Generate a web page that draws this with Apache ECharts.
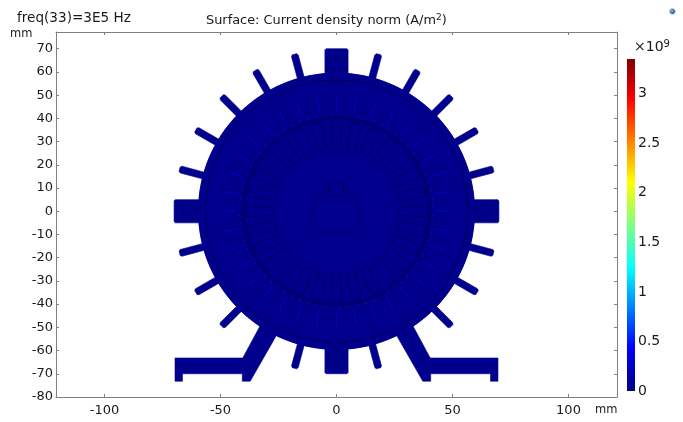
<!DOCTYPE html>
<html><head><meta charset="utf-8">
<style>html,body{margin:0;padding:0;background:#fff}#c{width:683px;height:422px}</style>
<script src="https://cdn.jsdelivr.net/npm/echarts@6/dist/echarts.min.js"></script>
</head><body><div id="c"></div>
<script>
// ---- values (mm, degrees, 1e9 A/m^2) ----
const xTickValues = [-100,-50,0,50,100];
const yTickValues = [-80,-70,-60,-50,-40,-30,-20,-10,0,10,20,30,40,50,60,70];
const colorTickValues = [0,0.5,1,1.5,2,2.5,3];
const colorMax = 3.35;
const bossAngles = [0,90,180,270];
const finAngles = [15,30,45,60,75,105,120,135,150,165,195,210,225,255,285,315,330,345];
const rotorSlotAngles = Array.from({length:28},(_,i)=>i*360/28);
const statorToothAngles = Array.from({length:36},(_,i)=>i*10);
const footSides = [-1,1];
const frameCircleRadii = [59.5];
const lineCircleRadii = [56.5,40.6,39.8,10];
const holeAngles = [0,90,180,270];
const airGapDotAngles = Array.from({length:72},(_,i)=>i*5+2.5);

// ---- appearance ----
const BASE='#00008c', EDGE='#000054', SOFT='#00006c', STRIPE='#0000b8', ARC='#0000a4';
const AXIS='#808080', TEXT='#1a1a1a', FONT='"DejaVu Sans"';
const rad=d=>d*Math.PI/180;
const polar=(a,r,t)=>[r*Math.cos(rad(a))-t*Math.sin(rad(a)), r*Math.sin(rad(a))+t*Math.cos(rad(a))];
const circle=(r,cx=0,cy=0)=>Array.from({length:180},(_,i)=>[cx+r*Math.cos(rad(i*2)),cy+r*Math.sin(rad(i*2))]);

function layer(data,shape,style,closed=true){
  return {type:'custom',xAxisIndex:0,yAxisIndex:0,coordinateSystem:'cartesian2d',silent:true,clip:true,
    data:data.map(v=>[v]),animation:false,
    renderItem:(p,api)=>({type:closed?'polygon':'polyline',
      shape:{points:shape(api.value(0)).map(q=>api.coord(q))},
      style:Object.assign({lineJoin:'round'},style)})};
}
const solid={fill:BASE,stroke:BASE,lineWidth:0.6};
const outline=(c,w)=>({fill:'none',stroke:c,lineWidth:w});

const fin=a=>[[57,-1.5],[69.3,-1.5],[70,-1.0],[70,1.0],[69.3,1.5],[57,1.5]].map(q=>polar(a,q[0],q[1]));
const boss=a=>[[57,-5],[69.5,-5],[70,-4.5],[70,4.5],[69.5,5],[57,5]].map(q=>polar(a,q[0],q[1]));
const foot=s=>[[69.6,-63.2],[40.4,-63.2],[32.2,-48],[25.5,-52.8],[37.2,-73.2],[40.6,-73.2],[40.6,-70],[66.4,-70],[66.4,-73.2],[69.6,-73.2]].map(q=>[s*q[0],q[1]]);
const rotorSlot=a=>[[27,-1.2],[26.9,0],[27,1.2],[27.6,1.75],[38,2.3],[38.8,1.9],[38.9,0],[38.8,-1.9],[38,-2.3],[27.6,-1.75]].map(q=>polar(a,q[0],q[1]));
const tooth=a=>[[43,-0.25],[49,-0.4],[49,0.4],[43,0.25]].map(q=>polar(a,q[0],q[1]));
const statorSlot=a=>{
  const m=a+5, pts=[];
  pts.push(polar(m,43.2,-2.6),polar(m,43.2,2.6),polar(m,44,3.2));
  for(let d=3.6;d>=-3.6;d-=1.2) pts.push(polar(m+d,49.8,0));
  pts.push(polar(m,44,-3.2));
  return pts;
};
const slotArc=a=>{const m=a+5,pts=[];for(let d=-3;d<=3;d+=1)pts.push(polar(m+d,49.9,0));return pts;};
const hole=a=>circle(3.1,...polar(a,63.1,0));
const dot=a=>circle(0.16,...polar(a,41.7,0));
const KEY=[[-3,6.3],[3.1,6.3],[3.1,12.5],[-3,12.5]];
const NOTCH=[[-2.1,56.4],[-1.5,54.9],[1.5,54.9],[2.1,56.4]];

const xMin=-120.9,xMax=120.9,yMin=-80.0,yMax=77.2;
const xCommon={type:'value',min:xMin,max:xMax,gridIndex:0,splitLine:{show:false},
  axisLine:{show:true,onZero:false,lineStyle:{color:AXIS,width:1}},
  axisTick:{show:true,inside:true,length:3,customValues:xTickValues,lineStyle:{color:AXIS}}};
const yCommon={type:'value',min:yMin,max:yMax,gridIndex:0,splitLine:{show:false},
  axisLine:{show:true,onZero:false,lineStyle:{color:AXIS,width:1}},
  axisTick:{show:true,inside:true,length:3,customValues:yTickValues,lineStyle:{color:AXIS}}};
const labelStyle={color:TEXT,fontFamily:FONT,fontSize:13};

const chart=echarts.init(document.getElementById('c'),null,{renderer:'canvas'});
chart.setOption({
  animation:false,backgroundColor:'#fff',
  grid:[{left:56,top:32,width:561,height:365},{left:627,top:59,width:8,height:332}],
  xAxis:[
    Object.assign({},xCommon,{position:'bottom',axisLabel:Object.assign({},labelStyle,{customValues:xTickValues,margin:7})}),
    Object.assign({},xCommon,{position:'top',axisLabel:{show:false}}),
    {type:'category',gridIndex:1,data:['J'],show:false}
  ],
  yAxis:[
    Object.assign({},yCommon,{position:'left',axisLabel:Object.assign({},labelStyle,{customValues:yTickValues,margin:3})}),
    Object.assign({},yCommon,{position:'right',axisLabel:{show:false}}),
    {type:'value',gridIndex:1,min:0,max:colorMax,position:'right',splitLine:{show:false},axisLine:{show:false},axisTick:{show:false},
     axisLabel:Object.assign({},labelStyle,{customValues:colorTickValues,margin:3,fontSize:14})}
  ],
  series:[
    layer(frameCircleRadii,r=>circle(r),solid),
    layer(bossAngles,boss,solid),
    layer(finAngles,fin,solid),
    layer(footSides,foot,solid),
    layer(frameCircleRadii,r=>circle(r),solid),
    layer(holeAngles,hole,outline(EDGE,0.9)),
    layer(lineCircleRadii,r=>circle(r),outline(EDGE,0.9)),
    layer(statorToothAngles,statorSlot,outline(SOFT,0.5)),
    layer(statorToothAngles,slotArc,outline(ARC,0.7),false),
    layer(statorToothAngles,tooth,{fill:STRIPE,stroke:'none'}),
    layer(airGapDotAngles,dot,{fill:'#1a4fb0',stroke:'none'}),
    layer(rotorSlotAngles,rotorSlot,outline(EDGE,0.9)),
    layer([0],()=>KEY,{fill:BASE,stroke:EDGE,lineWidth:0.9}),
    layer([0],()=>NOTCH,outline(EDGE,0.9),false),
    {type:'bar',xAxisIndex:2,yAxisIndex:2,data:[colorMax],barWidth:'100%',silent:true,
     itemStyle:{color:new echarts.graphic.LinearGradient(0,1,0,0,[
       {offset:0,color:'#00007f'},{offset:0.13,color:'#0000ff'},{offset:0.37,color:'#00ffff'},
       {offset:0.63,color:'#ffff00'},{offset:0.88,color:'#ff0000'},{offset:1,color:'#7f0000'}])}}
  ],
  graphic:[
    {type:'text',left:17,top:11,style:{text:'freq(33)=3E5 Hz',fill:TEXT,font:'13.6px '+FONT}},
    {type:'text',left:10,top:28,style:{text:'mm',fill:TEXT,font:'11.5px '+FONT}},
    {type:'text',left:595,top:404,style:{text:'mm',fill:TEXT,font:'11.5px '+FONT}},
    {type:'text',left:206,top:13,style:{
      text:'{a|Surface: Current density norm (A/m}{s|2}{a|)}',
      rich:{a:{fill:TEXT,fontFamily:'DejaVu Sans',fontSize:12.9},
            s:{fill:TEXT,fontFamily:'DejaVu Sans',fontSize:9,verticalAlign:'top',padding:[0,0,6,0]}}}},
    {type:'text',left:634,top:39,style:{
      text:'{a|×10}{s|9}',
      rich:{a:{fill:TEXT,fontFamily:'DejaVu Sans',fontSize:14},
            s:{fill:TEXT,fontFamily:'DejaVu Sans',fontSize:10,padding:[0,0,7,0]}}}},
    {type:'circle',left:669,top:8,shape:{r:3},style:{fill:'#3a6fc0',stroke:'#cfd8e8',lineWidth:1}},
    {type:'circle',left:671,top:10,shape:{r:1},style:{fill:'#e0c040'}}
  ]
});
</script></body></html>
